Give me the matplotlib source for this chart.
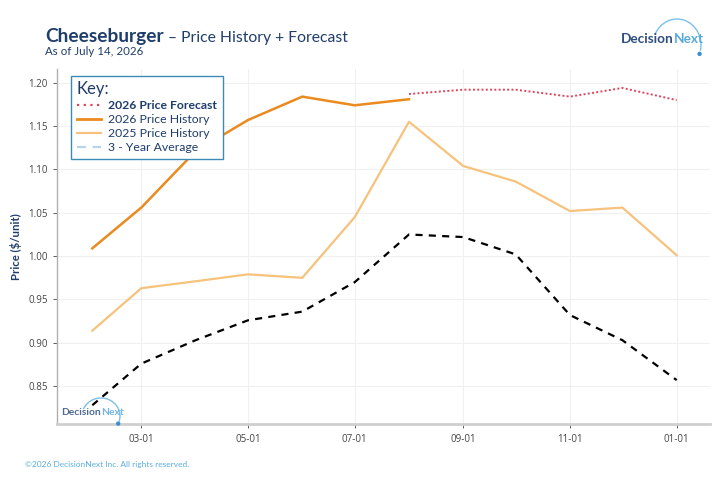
import numpy as np
import matplotlib
matplotlib.use("Agg")
import matplotlib.pyplot as plt
import matplotlib.dates as mdates
from matplotlib.lines import Line2D
from matplotlib.patches import Arc, Ellipse

# month starts, Feb 2026 .. Jan 2027
months = np.array(["2026-02-01", "2026-03-01", "2026-04-01", "2026-05-01",
                   "2026-06-01", "2026-07-01", "2026-08-01", "2026-09-01",
                   "2026-10-01", "2026-11-01", "2026-12-01", "2027-01-01"],
                  dtype="datetime64[D]")

hist_2026 = [1.009, 1.056, 1.121, 1.157, 1.184, 1.174, 1.181]
forecast_2026 = [1.187, 1.192, 1.192, 1.184, 1.194, 1.180]
hist_2025 = [0.914, 0.963, 0.971, 0.979, 0.975, 1.045, 1.155,
             1.104, 1.086, 1.052, 1.056, 1.001]
avg_3yr = [0.828, 0.876, 0.903, 0.926, 0.936, 0.970, 1.025,
           1.022, 1.002, 0.932, 0.903, 0.857]

NAVY = "#1f3d6b"
plt.rcParams["font.family"] = ["Lato", "DejaVu Sans"]

fig = plt.figure(figsize=(7.2, 4.8), dpi=100)
ax = fig.add_axes([0.0796, 0.116, 0.9064, 0.7396])

ax.plot(months, avg_3yr, color="black", lw=1.6, ls=(0, (3.2, 2.8)))
ax.plot(months, hist_2025, color="#f6c27c", lw=1.6)
ax.plot(months[:7], hist_2026, color="#ea8a1f", lw=1.8)
ax.plot(months[6:], forecast_2026, color="#e0445c", lw=1.4, ls=(0, (1, 1.2)))

ax.set_xlim(np.datetime64("2026-01-12"), np.datetime64("2027-01-20"))
ax.set_ylim(0.806, 1.2155)
ax.set_yticks([0.85, 0.90, 0.95, 1.00, 1.05, 1.10, 1.15, 1.20])
ax.yaxis.set_major_formatter(plt.FuncFormatter(lambda v, p: f"{v:.2f}"))
ax.xaxis.set_major_locator(mdates.MonthLocator(bymonth=[1, 3, 5, 7, 9, 11]))
ax.xaxis.set_major_formatter(mdates.DateFormatter("%m-%d"))

ax.grid(True, color="#f0f0f0", lw=0.8)
ax.set_axisbelow(True)
for s in ["top", "right"]:
    ax.spines[s].set_visible(False)
ax.spines["left"].set_color("#b0b0b0")
ax.spines["left"].set_linewidth(1.0)
ax.spines["bottom"].set_color("#cfcfcf")
ax.spines["bottom"].set_linewidth(2.0)
ax.tick_params(axis="both", labelsize=7, colors="#444444", length=3,
               width=0.6, pad=4)
for lab in ax.get_xticklabels() + ax.get_yticklabels():
    lab.set_fontfamily(["Open Sans", "DejaVu Sans"])
ax.set_ylabel("Price ($/unit)", fontsize=8.2, color=NAVY, fontweight="bold")
ax.yaxis.set_label_coords(-0.054, 0.5)

# legend with its own handle styles
handles = [
    Line2D([], [], color="#e0445c", lw=1.6, ls=(0, (1, 2))),
    Line2D([], [], color="#ea8a1f", lw=2.0),
    Line2D([], [], color="#f6c27c", lw=1.6),
    Line2D([], [], color="#b8d4ec", lw=1.6, ls=(0, (4, 3))),
]
labels = ["2026 Price Forecast", "2026 Price History", "2025 Price History",
          "3 - Year Average"]
leg = ax.legend(handles, labels, title="Key:", loc="upper left",
                bbox_to_anchor=(0.021, 0.982), borderaxespad=0,
                fancybox=False, framealpha=1, edgecolor="#3d8bb5",
                fontsize=8.8, title_fontsize=12, alignment="left",
                handlelength=2.0, handletextpad=0.6, labelspacing=0.25,
                borderpad=0.45)
leg.get_frame().set_linewidth(1.0)
leg.get_title().set_color(NAVY)
for i, t in enumerate(leg.get_texts()):
    t.set_color(NAVY)
    if i == 0:
        t.set_fontweight("bold")

# title
t1 = fig.text(45 / 720, 1 - 42 / 480, "Cheeseburger", fontsize=13.8,
              fontweight="bold", color=NAVY)
fig.canvas.draw()
bb = t1.get_window_extent()
fig.text(bb.x1 / 720 + 0.006, 1 - 42 / 480, "\u2013 Price History + Forecast",
         fontsize=11.3, color=NAVY)
fig.text(45 / 720, 1 - 55 / 480, "As of July 14, 2026", fontsize=8.3,
         color=NAVY)


def logo(x, y, size, arc_c, arc_r, th, alpha=1.0):
    ta = fig.text(x / 720, 1 - y / 480, "Decision", fontsize=size,
                  fontweight="bold", color="#2f4f7f", alpha=alpha)
    fig.canvas.draw()
    b = ta.get_window_extent()
    fig.text(b.x1 / 720, 1 - y / 480, "Next", fontsize=size,
             fontweight="bold", color="#5aa9dc", alpha=alpha)
    cx, cy = arc_c[0] / 720, 1 - arc_c[1] / 480
    fig.patches.append(Arc((cx, cy), 2 * arc_r[0] / 720, 2 * arc_r[1] / 480,
                           theta1=th[0], theta2=th[1], color="#7cc0ea",
                           lw=1.0, transform=fig.transFigure))
    ex = cx + arc_r[0] / 720 * np.cos(np.radians(th[0]))
    ey = cy + arc_r[1] / 480 * np.sin(np.radians(th[0]))
    fig.patches.append(Ellipse((ex, ey), 3 / 720, 3 / 480, color="#3f8fcf",
                               transform=fig.transFigure))


# top right logo
logo(621, 43, 9.8, (677, 45), (24, 26), (-20, 145))
# watermark logo in the plot
logo(61, 415, 7.4, (101, 416), (19, 18), (-25, 150), alpha=0.85)

fig.text(25 / 720, 1 - 467 / 480,
         "\u00a92026 DecisionNext Inc. All rights reserved.",
         fontsize=6, color="#5aaee0")

fig.savefig("out.png", dpi=100)
